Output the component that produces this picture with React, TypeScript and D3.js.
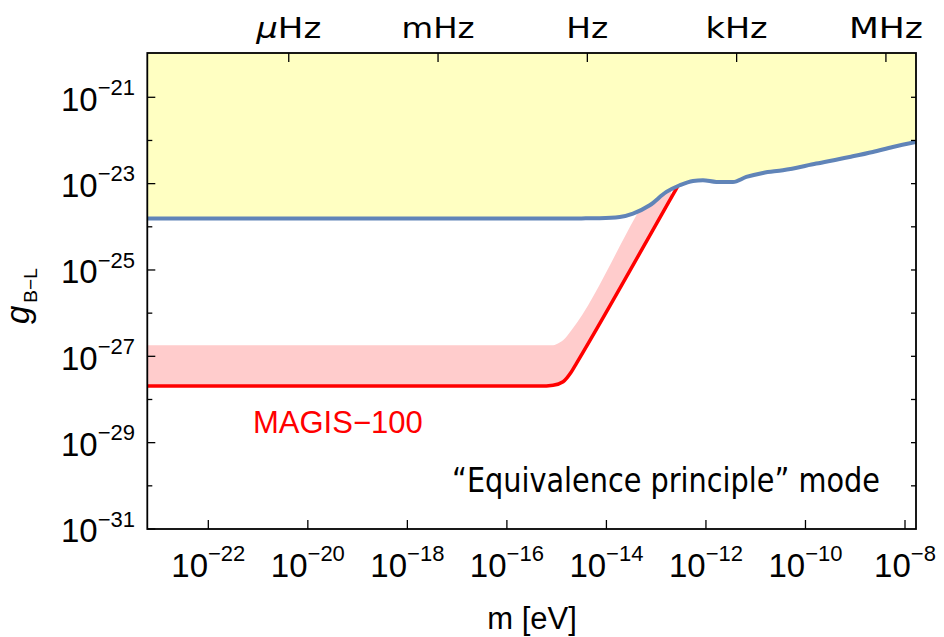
import * as d3 from "d3";

const WIDTH = 944;
const HEIGHT = 637;
const PLOT = { left: 147.3, right: 916, top: 53, bottom: 529 };

// axis limits, as powers of ten
const X_EXP_RANGE = [-23.226, -7.779];
const Y_EXP_RANGE = [-31, -19.974];

const xTickExps = [-22, -20, -18, -16, -14, -12, -10, -8];
const yMajorExps = [-31, -29, -27, -25, -23, -21];
const yMinorExps = [-30, -28, -26, -24, -22];
const yRightExps = [-30, -29, -28, -27, -26, -25, -24, -23, -22, -21];

// top axis: frequency f, m = h f
const freqLabels = ["μHz", "mHz", "Hz", "kHz", "MHz"];
const freqHz = [1e-6, 1e-3, 1, 1e3, 1e6];
const freqLabelWidths = [65, 73, 42, 62, 74];
const H_EV_S = 4.1357e-15;

// existing bound (blue edge of yellow region): log10 m, log10 g
const boundLogM = [-23.226, -15.0, -14.5, -14.135, -13.733, -13.466, -13.13, -12.795, -12.528, -12.261, -12.06, -11.791, -11.458, -11.189, -10.855, -10.454, -9.783, -9.114, -8.647, -8.245, -7.779];
const boundLogG = [-23.808, -23.808, -23.805, -23.8, -23.771, -23.692, -23.5, -23.192, -23.037, -22.937, -22.921, -22.961, -22.961, -22.845, -22.752, -22.69, -22.535, -22.382, -22.266, -22.15, -22.035];

// MAGIS-100 projected reach (red line)
const magisLogM = [-23.226, -15.339, -15.072, -14.871, -14.703, -14.602, -12.594, -12.3];
const magisLogG = [-27.69, -27.69, -27.67, -27.59, -27.359, -27.164, -23.113, -22.52];

// upper edge of the pink band
const bandLogM = [-23.226, -15.339, -15.072, -14.94, -14.871, -14.703, -13.398, -12.7];
const bandLogG = [-26.741, -26.741, -26.741, -26.68, -26.625, -26.394, -23.731, -22.31];

type Pt = [number, number];
const toPts = (ms: number[], gs: number[]): Pt[] => ms.map((m, i) => [10 ** m, 10 ** gs[i]]);

const ARIAL = "'Liberation Sans', Arial, sans-serif";
const TAHOMA = "'DejaVu Sans Condensed', 'DejaVu Sans', sans-serif";

export default function App() {
  const x = d3.scaleLog().domain(X_EXP_RANGE.map((e) => 10 ** e)).range([PLOT.left, PLOT.right]);
  const y = d3.scaleLog().domain(Y_EXP_RANGE.map((e) => 10 ** e)).range([PLOT.bottom, PLOT.top]);

  const bound = toPts(boundLogM, boundLogG);
  const magis = toPts(magisLogM, magisLogG);
  const band = toPts(bandLogM, bandLogG);

  const line = d3.line<Pt>().x((d) => x(d[0])).y((d) => y(d[1])).curve(d3.curveMonotoneX);
  const areaBelow = d3.area<Pt>().x((d) => x(d[0])).y0(PLOT.bottom).y1((d) => y(d[1])).curve(d3.curveMonotoneX);
  const areaAbove = d3.area<Pt>().x((d) => x(d[0])).y0(PLOT.top).y1((d) => y(d[1])).curve(d3.curveMonotoneX);

  return (
    <svg width={WIDTH} height={HEIGHT} style={{ position: "absolute", left: 0, top: 0, background: "white" }}>
      <defs>
        <clipPath id="plotclip">
          <rect x={PLOT.left} y={PLOT.top} width={PLOT.right - PLOT.left} height={PLOT.bottom - PLOT.top} />
        </clipPath>
      </defs>

      <g clipPath="url(#plotclip)">
        {/* pink band = area under upper edge minus area under red line */}
        <path d={areaBelow(band) ?? ""} fill="#FFCCCC" />
        <path d={areaBelow(magis) ?? ""} fill="white" />
        <path d={line(magis) ?? ""} fill="none" stroke="#FF0000" strokeWidth={3.5} />
        <path d={areaAbove(bound) ?? ""} fill="#FFFFC2" />
        <path d={line(bound) ?? ""} fill="none" stroke="#6084B8" strokeWidth={4} />
      </g>

      {/* ticks */}
      <g stroke="#000" strokeWidth={1.3}>
        {xTickExps.map((e) => (
          <line key={"bx" + e} x1={x(10 ** e)} x2={x(10 ** e)} y1={PLOT.bottom} y2={PLOT.bottom - 9} />
        ))}
        {freqHz.map((f) => (
          <line key={"tx" + f} x1={x(f * H_EV_S)} x2={x(f * H_EV_S)} y1={PLOT.top} y2={PLOT.top + 9} />
        ))}
        {yMajorExps.map((e) => (
          <line key={"ly" + e} x1={PLOT.left} x2={PLOT.left + 8} y1={y(10 ** e)} y2={y(10 ** e)} />
        ))}
        {yMinorExps.map((e) => (
          <line key={"lm" + e} x1={PLOT.left} x2={PLOT.left + 5} y1={y(10 ** e)} y2={y(10 ** e)} />
        ))}
        {yRightExps.map((e) => (
          <line key={"ry" + e} x1={PLOT.right} x2={PLOT.right - 5} y1={y(10 ** e)} y2={y(10 ** e)} />
        ))}
      </g>

      <rect
        x={PLOT.left}
        y={PLOT.top}
        width={PLOT.right - PLOT.left}
        height={PLOT.bottom - PLOT.top}
        fill="none"
        stroke="#000"
        strokeWidth={1.8}
      />

      {/* y tick labels */}
      {yMajorExps.map((e) => (
        <text key={"yl" + e} x={135} y={y(10 ** e) + 13.4} textAnchor="end" fontFamily={ARIAL} fontSize={33}>
          <tspan>10</tspan>
          <tspan fontSize={22} dy={-15.7}>{"−" + Math.abs(e)}</tspan>
        </text>
      ))}

      {/* x tick labels */}
      {xTickExps.map((e) => (
        <text key={"xl" + e} x={x(10 ** e)} y={577} textAnchor="middle" fontFamily={ARIAL} fontSize={33}>
          <tspan>10</tspan>
          <tspan fontSize={22} dy={-15.7}>{"−" + Math.abs(e)}</tspan>
        </text>
      ))}

      {/* top frequency labels */}
      {freqLabels.map((lab, i) => (
        <text
          key={lab}
          x={x(freqHz[i] * H_EV_S)}
          y={38.3}
          textAnchor="middle"
          fontFamily={TAHOMA}
          fontSize={28}
          textLength={freqLabelWidths[i]}
          lengthAdjust="spacingAndGlyphs"
        >
          {lab === "μHz" ? (
            <>
              <tspan fontStyle="italic">μ</tspan>Hz
            </>
          ) : (
            lab
          )}
        </text>
      ))}

      {/* axis titles */}
      <text x={532} y={629} textAnchor="middle" fontFamily={ARIAL} fontSize={31}>
        m [eV]
      </text>
      <text transform="translate(29,324) rotate(-90)" fontFamily={ARIAL}>
        <tspan fontSize={33} fontStyle="italic">g</tspan>
        <tspan fontSize={19} dy={8} dx={3}>B−L</tspan>
      </text>

      {/* annotations */}
      <text x={253} y={433} fontFamily={ARIAL} fontSize={31} fill="#FF0000">
        MAGIS−100
      </text>
      <text
        x={452}
        y={491.7}
        fontFamily={TAHOMA}
        fontSize={34}
        textLength={428}
        lengthAdjust="spacingAndGlyphs"
      >
        “Equivalence principle” mode
      </text>
    </svg>
  );
}
